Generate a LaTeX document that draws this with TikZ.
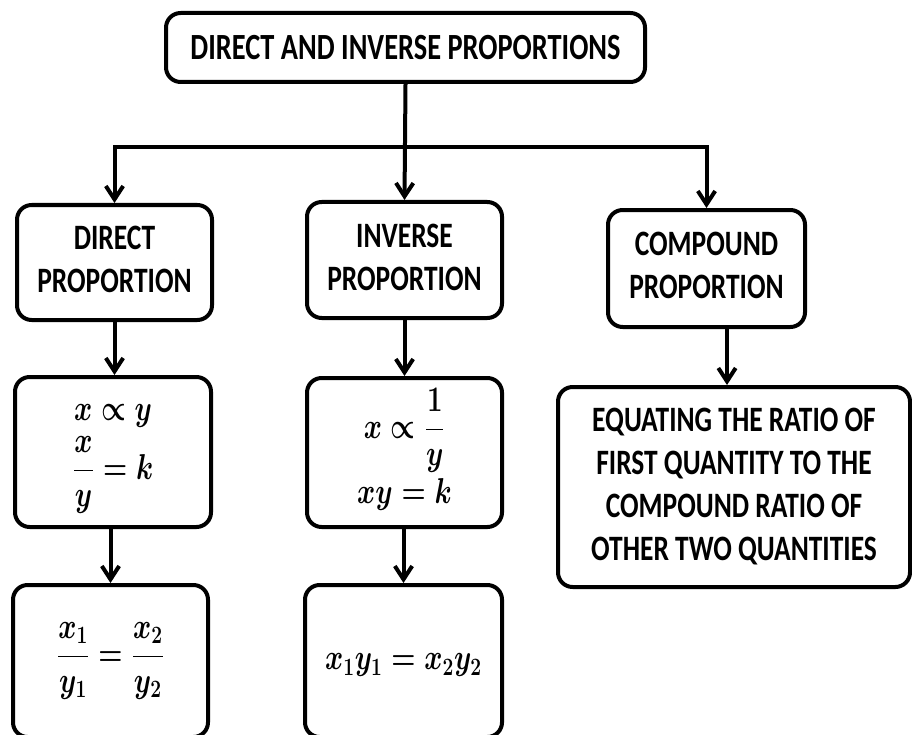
\documentclass[tikz,border=0pt]{standalone}
\usepackage{graphicx}
\usepackage{amsmath}
\usepackage{fontspec}
\setmainfont{Carlito}
\usetikzlibrary{arrows.meta}
% stretch text vertically a little, as in the drawing
\newcommand{\tallbox}[1]{\scalebox{1}[1.3]{#1}}
\newcommand{\lines}[1]{\tallbox{\begin{tabular}{@{}c@{}}#1\end{tabular}}}
\newcommand{\mathlines}[1]{\tallbox{\fontsize{21}{25}\selectfont\boldmath$\begin{array}{c}#1\end{array}$}}
\begin{document}
\begin{tikzpicture}[x=0.75pt,y=-0.75pt,
  box/.style={draw, line width=3pt, rounded corners=11pt, inner sep=0pt,
    align=center, font=\bfseries\fontsize{20.6}{24.8}\selectfont},
  conn/.style={line width=3pt},
  arr/.style={conn, -{Straight Barb[length=10pt,width=13pt]}}
]
\useasboundingbox (0,0) rectangle (912,734);
\fill[white] (0,0) rectangle (912,734);

% title
\node[box, minimum width={479*0.75pt}, minimum height={69*0.75pt},
  font=\bfseries\fontsize{21.3}{25}\selectfont] (top) at (405.5,47.5)
  {\tallbox{DIRECT AND INVERSE PROPORTIONS}};

% the three kinds of proportion
\node[box, minimum width={195*0.75pt}, minimum height={115*0.75pt}] (direct) at (114.5,262.5)
  {\lines{DIRECT\\PROPORTION}};
\node[box, minimum width={195*0.75pt}, minimum height={116*0.75pt}] (inverse) at (404.5,260)
  {\lines{INVERSE\\PROPORTION}};
\node[box, minimum width={197*0.75pt}, minimum height={117*0.75pt}] (compound) at (706.5,268.5)
  {\lines{COMPOUND\\PROPORTION}};

% formulas
\node[box, minimum width={196*0.75pt}, minimum height={150*0.75pt}] (dform) at (113,452)
  {\mathlines{x\propto y\\[2pt] \dfrac{x}{y}=k}};
\node[box, minimum width={195*0.75pt}, minimum height={149*0.75pt}] (iform) at (404.5,452.5)
  {\mathlines{x\propto \dfrac{1}{y}\\[2pt] xy=k}};
\node[box, minimum width={195*0.75pt}, minimum height={152*0.75pt}] (dbot) at (110.5,661)
  {\mathlines{\dfrac{x_1}{y_1}=\dfrac{x_2}{y_2}}};
\node[box, minimum width={197*0.75pt}, minimum height={152*0.75pt}] (ibot) at (403.5,661)
  {\mathlines{x_1y_1=x_2y_2}};
\node[box, minimum width={352*0.75pt}, minimum height={200*0.75pt}] (equate) at (734,487)
  {\lines{EQUATING THE RATIO OF\\FIRST QUANTITY TO THE\\COMPOUND RATIO OF\\OTHER TWO QUANTITIES}};

% connectors
\coordinate (bus) at (0,147);
\coordinate (cdrop) at (727,0);
\draw[arr] (top.south) -- (inverse.north);
\draw[arr] (top.south |- bus) -- (direct.north |- bus) -- (direct.north);
\draw[arr] (top.south |- bus) -- (compound.north |- bus) -- (compound.north);
\draw[arr] (direct.south) -- (direct.south |- dform.north);
\draw[arr] (inverse.south) -- (inverse.south |- iform.north);
\draw[arr] (dbot.north |- dform.south) -- (dbot.north);
\draw[arr] (ibot.north |- iform.south) -- (ibot.north);
\draw[arr] (compound.south -| cdrop) -- (equate.north -| cdrop);
\end{tikzpicture}
\end{document}
